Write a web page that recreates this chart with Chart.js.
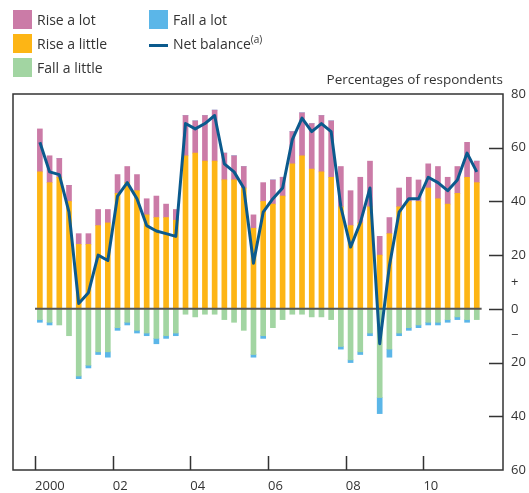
<!DOCTYPE html>
<html><head><meta charset="utf-8">
<script src="https://cdn.jsdelivr.net/npm/chart.js@4/dist/chart.umd.min.js"></script>
<style>
html,body{margin:0;padding:0;background:#fff;}
#wrap{position:relative;width:529px;height:493px;font-family:"Open Sans",sans-serif;color:#333;overflow:hidden;}
canvas{position:absolute;left:0;top:0;}
.sw{position:absolute;width:19px;height:19px;}
.lt{position:absolute;font-size:14px;line-height:19px;white-space:nowrap;}
.lt sup{font-size:10px;vertical-align:6px;line-height:0;}
#unit{position:absolute;right:26px;top:70px;font-size:13.5px;line-height:18px;white-space:nowrap;}
</style></head>
<body><div id="wrap"><canvas id="c" width="529" height="493"></canvas>
<div class="sw" style="left:13px;top:10px;background:#CB7BA7"></div><div class="lt" style="left:37px;top:10px">Rise a lot</div>
<div class="sw" style="left:13px;top:34px;background:#FDB515"></div><div class="lt" style="left:37px;top:34px">Rise a little</div>
<div class="sw" style="left:13px;top:58px;background:#A2D5A2"></div><div class="lt" style="left:37px;top:58px">Fall a little</div>
<div class="sw" style="left:149px;top:10px;background:#5BB6E8"></div><div class="lt" style="left:173px;top:10px">Fall a lot</div>
<div style="position:absolute;left:149px;top:44px;width:19px;height:3px;background:#0B5A8D"></div><div class="lt" style="left:173px;top:34px">Net balance<sup>(a)</sup></div>
<div id="unit">Percentages of respondents</div>
</div>
<script>
const quarters = [
 "2000 Q1","2000 Q2","2000 Q3","2000 Q4","2001 Q1","2001 Q2","2001 Q3","2001 Q4",
 "2002 Q1","2002 Q2","2002 Q3","2002 Q4","2003 Q1","2003 Q2","2003 Q3","2003 Q4",
 "2004 Q1","2004 Q2","2004 Q3","2004 Q4","2005 Q1","2005 Q2","2005 Q3","2005 Q4",
 "2006 Q1","2006 Q2","2006 Q3","2006 Q4","2007 Q1","2007 Q2","2007 Q3","2007 Q4",
 "2008 Q1","2008 Q2","2008 Q3","2008 Q4","2009 Q1","2009 Q2","2009 Q3","2009 Q4",
 "2010 Q1","2010 Q2","2010 Q3","2010 Q4","2011 Q1","2011 Q2"];
const riseALittle = [51,47,49,40,24,24,31,32,43,47,44,35,34,34,33,57,58,55,55,48,48,45,30,40,39,42,54,57,52,51,49,38,31,32,38,20,28,38,40,40,45,41,39,43,49,47];
const riseALot    = [16,10,7,6,4,4,6,5,7,6,6,6,8,5,4,15,12,17,19,10,9,8,5,7,9,7,12,16,17,21,21,15,13,17,17,7,6,7,9,8,9,12,10,10,13,8];
const fallALittle = [4,5,6,10,25,21,16,16,7,5,8,9,11,10,9,2,3,2,2,4,5,8,17,10,7,4,2,2,3,3,4,14,19,16,9,33,15,9,7,6,5,5,4,3,4,4];
const fallALot    = [1,1,0,0,1,1,1,2,1,1,1,1,2,1,1,0,0,0,0,0,0,0,1,1,0,0,0,0,0,0,0,1,1,1,1,6,3,1,1,1,1,1,1,1,1,0];
const netBalance  = [62,51,50,36,2,6,20,18,42,47,41,31,29,28,27,69,67,69,72,54,51,45,17,36,41,45,63,71,66,69,66,38,23,32,45,-13,16,36,41,41,49,47,44,48,58,51];
const yearTicks = [2000,2002,2004,2006,2008,2010];
const yearTickLabels = ["2000","02","04","06","08","10"];
const yTickValues = [-60,-40,-20,-10,0,10,20,40,60,80];
const yTickMarks = [-40,-20,0,20,40,60];

const FONT = {family:'"Open Sans", sans-serif', size:13};
const xOf = q => { const p = q.split(" Q"); return +p[0] + (+p[1] - 0.5) / 4; };
const mk = (arr, sign) => arr.map((v, i) => ({x: xOf(quarters[i]), y: sign * v}));

const deco = {
  id: 'deco',
  beforeDatasetDraw(chart, args) {
    if (args.index !== 4) return;
    const {ctx, scales:{x, y}} = chart;
    ctx.save();
    ctx.strokeStyle = '#555'; ctx.lineWidth = 2;
    ctx.beginPath();
    ctx.moveTo(x.getPixelForValue(2000), y.getPixelForValue(0));
    ctx.lineTo(x.getPixelForValue(2011.5), y.getPixelForValue(0));
    ctx.stroke();
    ctx.restore();
  },
  afterDraw(chart) {
    const {ctx, chartArea:a, scales:{x, y}} = chart;
    ctx.save();
    ctx.strokeStyle = '#333'; ctx.lineWidth = 1.5;
    ctx.strokeRect(a.left, a.top, a.right - a.left, a.bottom - a.top);
    ctx.beginPath();
    yearTicks.forEach(v => { const px = Math.round(x.getPixelForValue(v)) + 0.5; ctx.moveTo(px, a.bottom); ctx.lineTo(px, a.bottom - 14); });
    yTickMarks.forEach(v => { const py = Math.round(y.getPixelForValue(v)) + 0.5; ctx.moveTo(a.right, py); ctx.lineTo(a.right - 14, py); });
    ctx.stroke();
    ctx.restore();
  }
};

new Chart(document.getElementById('c'), {
  type: 'bar',
  data: { datasets: [
    {label:'Rise a little', data: mk(riseALittle, 1), backgroundColor:'#FDB515', order:1, stack:'s'},
    {label:'Rise a lot', data: mk(riseALot, 1), backgroundColor:'#CB7BA7', order:1, stack:'s'},
    {label:'Fall a little', data: mk(fallALittle, -1), backgroundColor:'#A2D5A2', order:1, stack:'s'},
    {label:'Fall a lot', data: mk(fallALot, -1), backgroundColor:'#5BB6E8', order:1, stack:'s'},
    {type:'line', label:'Net balance', data: mk(netBalance, 1), borderColor:'#0B5A8D', borderWidth:3, pointRadius:0, tension:0, order:0, stack:'n', borderJoinStyle:'round'}
  ]},
  options: {
    responsive:false, animation:false,
    layout:{padding:{left:13, top:94, right:0, bottom:0}},
    plugins:{legend:{display:false}, tooltip:{enabled:false}},
    datasets:{bar:{barThickness:5}},
    scales:{
      x:{type:'linear', min:1999.433, max:2012.05, stacked:true, offset:false,
         grid:{display:false, drawTicks:false}, border:{display:false},
         afterBuildTicks: s => { s.ticks = yearTicks.map(v => ({value:v})); },
         afterFit: s => { s.height = 23; },
         ticks:{align:'start', padding:8, autoSkip:false, maxRotation:0, font:FONT, color:'#333',
                callback: v => yearTickLabels[yearTicks.indexOf(v)]}},
      y:{position:'right', min:-60, max:80, stacked:true,
         grid:{display:false, drawTicks:false}, border:{display:false},
         afterBuildTicks: s => { s.ticks = yTickValues.map(v => ({value:v})); },
         afterFit: s => { s.width = 26; },
         ticks:{padding:8, autoSkip:false, font:FONT, color:'#333',
                callback: v => v === 10 ? '+' : (v === -10 ? '\u2212' : String(Math.abs(v)))}}
    }
  },
  plugins:[deco]
});
</script>
</body></html>
